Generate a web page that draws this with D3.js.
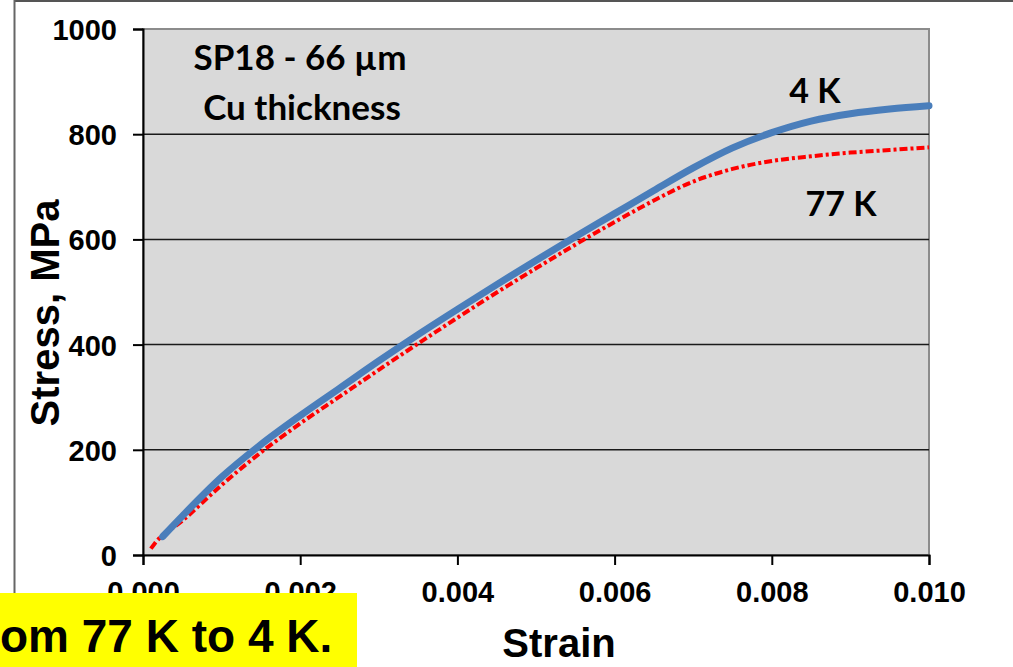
<!DOCTYPE html>
<html lang="en">
<head>
    <meta charset="UTF-8">
    <title>Stress-strain SP18</title>
    <style>
        body { margin: 0; background: #fff; }
        svg { display: block; }
    </style>
</head>
<body>
    <svg width="1013" height="667"></svg>
    <script src="https://d3js.org/d3.v7.min.js"></script>
    <script>
        // strain values for the 4 K curve
        const strain = [0.00025, 0.0005, 0.001, 0.0015, 0.002, 0.0025, 0.003, 0.0035, 0.004, 0.0045,
                        0.005, 0.0055, 0.006, 0.0065, 0.007, 0.0075, 0.008, 0.0085, 0.009, 0.0095, 0.010]
        // 4 K curve, MPa
        const stress4K = [35, 74, 148, 210, 265, 317, 369, 419, 467, 514,
                          560, 605, 649, 693, 736, 774, 803, 825, 839, 848, 854]
        // 77 K curve
        const strain77K = [0.0001, 0.00015, 0.0005, 0.001, 0.0015, 0.002, 0.0025, 0.003, 0.0035, 0.004, 0.0045,
                           0.005, 0.0055, 0.006, 0.0065, 0.007, 0.0075, 0.008, 0.0085, 0.009, 0.0095, 0.010]
        const stress77K = [12, 22, 65, 133, 195, 250, 301, 352, 402, 451, 499,
                           545, 590, 633, 674, 710, 734, 749, 758, 765, 770, 775]
        const xTicks = [0, 0.002, 0.004, 0.006, 0.008, 0.010]
        const yTicks = [0, 200, 400, 600, 800, 1000]

        const svg = d3.select('svg')
        const pLeft = 143, pRight = 929, pTop = 29, pBottom = 555

        const x = d3.scaleLinear().domain([0, 0.010]).range([pLeft, pRight])
        const y = d3.scaleLinear().domain([0, 1000]).range([pBottom, pTop])

        // outer frame
        svg.append('line').attr('x1', 14).attr('x2', 1013).attr('y1', 1).attr('y2', 1)
            .attr('stroke', '#555').attr('stroke-width', 2)
        svg.append('line').attr('x1', 14.5).attr('x2', 14.5).attr('y1', 0).attr('y2', 667)
            .attr('stroke', '#666').attr('stroke-width', 2)

        // plot area
        svg.append('rect')
            .attr('x', pLeft).attr('y', pTop)
            .attr('width', pRight - pLeft).attr('height', pBottom - pTop)
            .attr('fill', '#d9d9d9')
            .attr('stroke', '#8c8c8c').attr('stroke-width', 2)

        // gridlines
        svg.append('g')
            .selectAll('line')
            .data(yTicks.filter(d => d > 0 && d < 1000))
            .join('line')
                .attr('x1', pLeft).attr('x2', pRight)
                .attr('y1', d => y(d)).attr('y2', d => y(d))
                .attr('stroke', '#1a1a1a').attr('stroke-width', 1.5)

        // axes
        const yAxis = svg.append('g')
            .attr('transform', `translate(${pLeft},0)`)
            .call(d3.axisLeft(y).tickValues(yTicks).tickSize(10).tickPadding(16).tickFormat(d3.format('d')))
        const xAxis = svg.append('g')
            .attr('transform', `translate(0,${pBottom})`)
            .call(d3.axisBottom(x).tickValues(xTicks).tickSize(10).tickPadding(15).tickFormat(d3.format('.3f')))

        ;[xAxis, yAxis].forEach(a => {
            a.select('.domain').attr('stroke', '#000').attr('stroke-width', 2)
            a.selectAll('.tick line').attr('stroke', '#000').attr('stroke-width', 2)
            a.selectAll('text')
                .attr('fill', '#000')
                .style('font-family', '"Liberation Sans", Arial, sans-serif')
                .style('font-weight', 'bold')
                .style('font-size', '29px')
        })
        yAxis.selectAll('text').attr('dy', '0.36em')
        xAxis.selectAll('text').attr('dy', '0.75em')

        // curves
        const line = d3.line().x(d => x(d[0])).y(d => y(d[1])).curve(d3.curveMonotoneX)

        svg.append('path')
            .datum(strain77K.map((s, i) => [s, stress77K[i]]))
            .attr('d', line)
            .attr('fill', 'none')
            .attr('stroke', '#ff0000')
            .attr('stroke-width', 4)
            .attr('stroke-dasharray', '8,3,3,3')

        svg.append('path')
            .datum(strain.map((s, i) => [s, stress4K[i]]))
            .attr('d', line)
            .attr('fill', 'none')
            .attr('stroke', '#4a7ebb')
            .attr('stroke-width', 7)
            .attr('stroke-linecap', 'round')

        // annotations
        const calib = 'Lato, "Open Sans", sans-serif'
        const note = (txt, cx, cy, size) =>
            svg.append('text').attr('x', cx).attr('y', cy)
                .attr('text-anchor', 'middle')
                .style('font-family', calib).style('font-weight', 'bold')
                .style('font-size', size + 'px').attr('fill', '#000')
                .text(txt)
        note('SP18 - 66 \u00b5m', 300, 70, 35)
        note('Cu thickness', 302, 120, 35)
        note('4 K', 815, 103, 34)
        note('77 K', 841, 216, 34)

        // axis titles
        svg.append('text')
            .attr('x', 559).attr('y', 657)
            .attr('text-anchor', 'middle')
            .style('font-family', '"Liberation Sans", Arial, sans-serif')
            .style('font-weight', 'bold').style('font-size', '40px')
            .text('Strain')
        svg.append('text')
            .attr('transform', 'translate(59,313) rotate(-90)')
            .attr('text-anchor', 'middle')
            .style('font-family', '"Liberation Sans", Arial, sans-serif')
            .style('font-weight', 'bold').style('font-size', '40px')
            .text('Stress, MPa')

        // yellow caption box
        svg.append('rect')
            .attr('x', 0).attr('y', 593).attr('width', 357).attr('height', 74)
            .attr('fill', '#ffff00')
        svg.append('text')
            .attr('x', 0).attr('y', 652)
            .style('font-family', '"Liberation Sans", Arial, sans-serif')
            .style('font-weight', 'bold').style('font-size', '46px')
            .text('om 77 K to 4 K.')
    </script>
</body>
</html>
